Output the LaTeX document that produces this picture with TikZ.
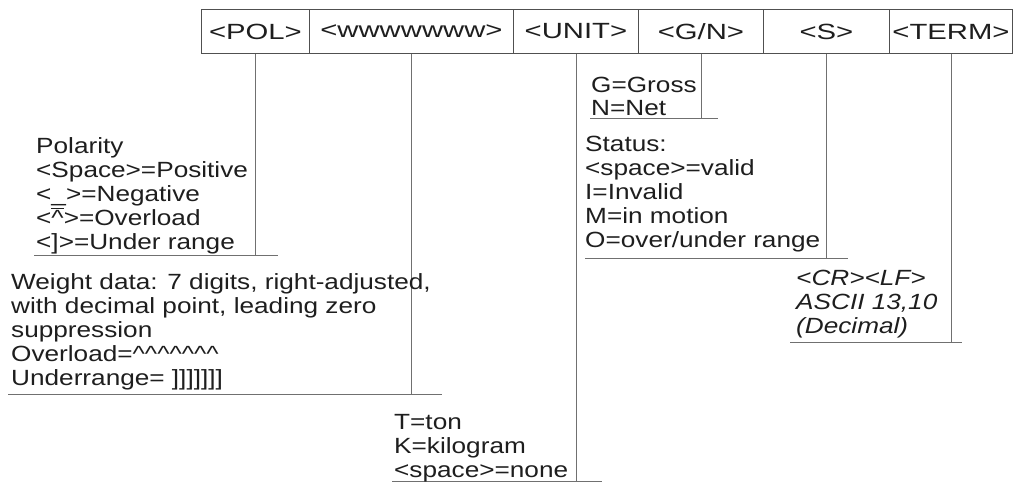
\documentclass[tikz,border=0pt]{standalone}
\usepackage{fontspec}
\setmainfont{Liberation Sans}
\newfontfamily\bodyf[FakeStretch=1.19]{Liberation Sans}
\newfontfamily\headf[FakeStretch=1.33]{Liberation Sans}
\definecolor{ink}{HTML}{1E1E1E}
\definecolor{ruleline}{HTML}{707070}
\definecolor{boxline}{HTML}{505050}
\begin{document}
\begin{tikzpicture}[x=1pt,y=-1pt,
  cell/.style={draw=boxline, line width=0.9pt, minimum height=44pt, inner sep=0pt,
    anchor=north west, font=\headf\fontsize{22}{26}\selectfont, text=ink},
  desc/.style={anchor=base west, inner sep=0pt, align=left,
    font=\bodyf\fontsize{22}{23.8}\selectfont, text=ink},
  lead/.style={draw=ruleline, line width=0.9pt}]
\useasboundingbox (0,0) rectangle (1014,484);
% top row of fields
\node[cell, minimum width=108pt] (pol)  at (201,9) {<POL>};
\node[cell, minimum width=204pt] (wgt)  at (309,9) {<wwwwwww>};
\node[cell, minimum width=125pt] (unit) at (513,9) {<UNIT>};
\node[cell, minimum width=125pt] (gn)   at (638,9) {<G/N>};
\node[cell, minimum width=126pt] (st)   at (763,9) {<S>};
\node[cell, minimum width=123pt] (term) at (889,9) {<TERM>};
% underline end points
\coordinate (polL) at (34,255);   \coordinate (polR) at (278,255);
\coordinate (wgtL) at (8,394);    \coordinate (wgtR) at (442,394);
\coordinate (unitL) at (392,481); \coordinate (unitR) at (602,481);
\coordinate (gnL) at (590,118);   \coordinate (gnR) at (718,118);
\coordinate (stL) at (585,258);   \coordinate (stR) at (848,258);
\coordinate (termL) at (790,342); \coordinate (termR) at (962,342);
% leaders
\draw[lead] (pol.south)  -- (pol.south |- polL);   \draw[lead] (polL) -- (polR);
\draw[lead] (wgt.south)  -- (wgt.south |- wgtL);   \draw[lead] (wgtL) -- (wgtR);
\draw[lead] (unit.south) -- (unit.south |- unitL); \draw[lead] (unitL) -- (unitR);
\draw[lead] (gn.south)   -- (gn.south |- gnL);     \draw[lead] (gnL) -- (gnR);
\draw[lead] (st.south)   -- (st.south |- stL);     \draw[lead] (stL) -- (stR);
\draw[lead] (term.south) -- (term.south |- termL); \draw[lead] (termL) -- (termR);
% descriptions (anchored at the baseline of their last line)
\node[desc] (poltxt) at (36,249) {Polarity\\<Space>=Positive\\<\_>=Negative\\<\ensuremath{\overline{\hbox{\textasciicircum}}}>=Overload\\<]>=Under range};
\node[desc] (wgttxt) at (11,385) {Weight data: 7 digits, right-adjusted,\\with decimal point, leading zero\\suppression\\Overload=\textasciicircum\textasciicircum\textasciicircum\textasciicircum\textasciicircum\textasciicircum\textasciicircum\\Underrange= ]]]]]]]};
\node[desc] (unittxt) at (394,477) {T=ton\\K=kilogram\\<space>=none};
\node[desc] (gntxt) at (591,116) {G=Gross\\N=Net};
\node[desc] (sttxt) at (585,247) {Status:\\<space>=valid\\I=Invalid\\M=in motion\\O=over/under range};
\node[desc, font=\bodyf\itshape\fontsize{22}{23.8}\selectfont] (termtxt) at (796,333) {<CR><LF>\\ASCII 13,10\\(Decimal)};
\end{tikzpicture}
\end{document}
